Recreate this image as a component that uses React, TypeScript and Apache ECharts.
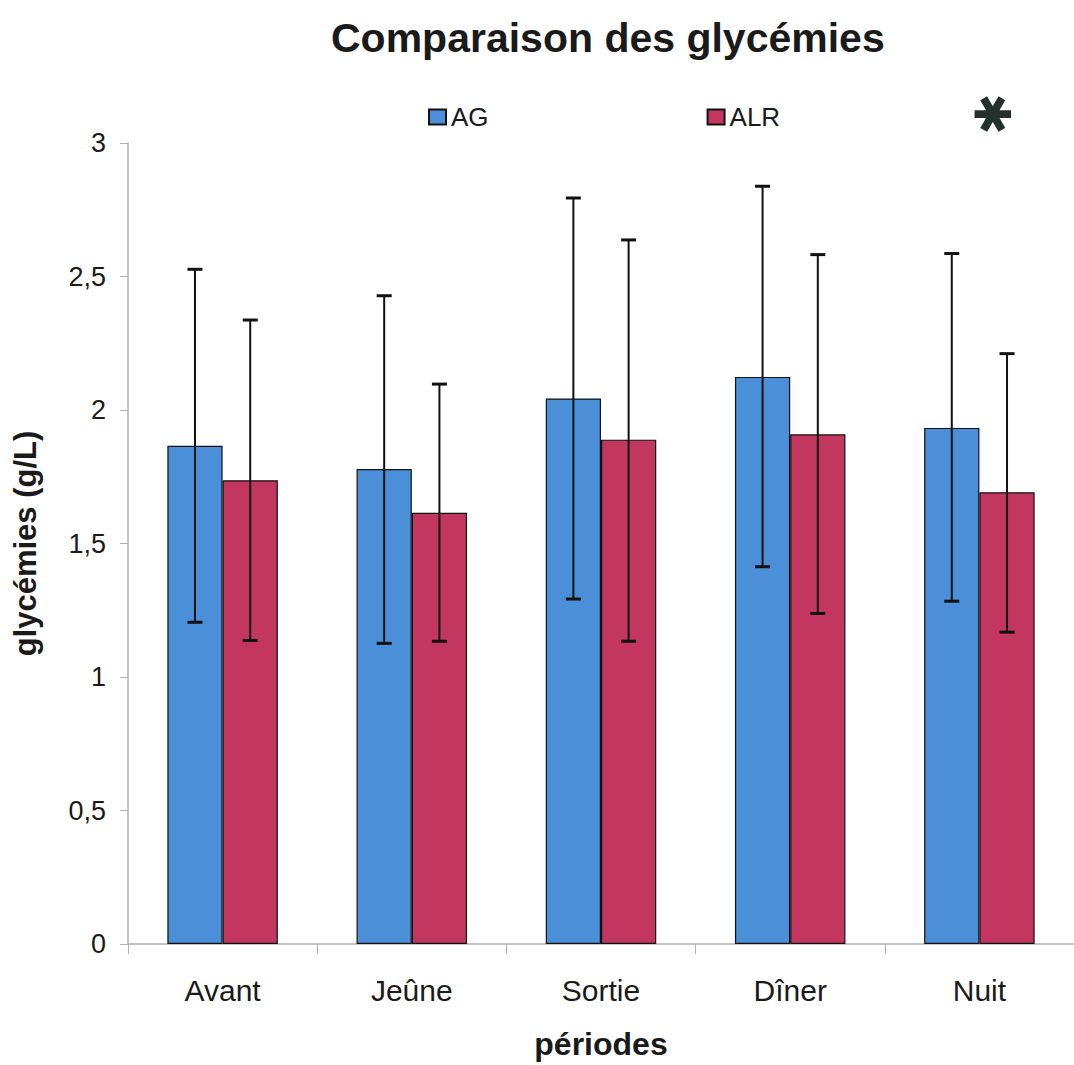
import React, { useEffect, useRef } from "react";
import * as echarts from "echarts";

const categories = ["Avant", "Jeûne", "Sortie", "Dîner", "Nuit"];
const seriesNames = ["AG", "ALR"];
const agMeans = [1.866, 1.779, 2.043, 2.124, 1.933];
const agLow = [1.205, 1.126, 1.292, 1.413, 1.284];
const agHigh = [2.527, 2.428, 2.794, 2.838, 2.586];
const alrMeans = [1.737, 1.615, 1.889, 1.909, 1.692];
const alrLow = [1.137, 1.134, 1.134, 1.238, 1.168];
const alrHigh = [2.337, 2.097, 2.637, 2.582, 2.211];
const yTicks = { min: 0, max: 3, interval: 0.5 };

const BAR_FRAC = 0.292;
const FONT = "'Liberation Sans', Arial, sans-serif";

function errorSeries(low: number[], high: number[], side: number) {
  return {
    type: "custom",
    name: "err" + side,
    z: 10,
    silent: true,
    data: low.map((l, i) => [i, l, high[i]]),
    encode: { x: 0, y: [1, 2] },
    renderItem: (params: any, api: any) => {
      const x = api.value(0);
      const lo = api.coord([x, api.value(1)]);
      const hi = api.coord([x, api.value(2)]);
      const bw = api.size([1, 0])[0] * BAR_FRAC;
      const cx = lo[0] + (side * bw) / 2;
      const cap = 7.5;
      const style = { stroke: "#111", lineWidth: 2 };
      return {
        type: "group",
        children: [
          { type: "line", shape: { x1: cx, y1: hi[1], x2: cx, y2: lo[1] }, style },
          { type: "line", shape: { x1: cx - cap, y1: hi[1], x2: cx + cap, y2: hi[1] }, style: { stroke: "#111", lineWidth: 3 } },
          { type: "line", shape: { x1: cx - cap, y1: lo[1], x2: cx + cap, y2: lo[1] }, style: { stroke: "#111", lineWidth: 3 } },
        ],
      };
    },
  };
}

export default function App() {
  const ref = useRef<HTMLDivElement>(null);
  useEffect(() => {
    if (!ref.current) return;
    const chart = echarts.init(ref.current, null, { renderer: "svg" });
    chart.setOption({
      animation: false,
      backgroundColor: "#ffffff",
      title: {
        text: "Comparaison des glycémies",
        left: 326,
        top: 12,
        textStyle: { fontFamily: FONT, fontSize: 41, fontWeight: "bold", color: "#1a1a1a" },
      },
      legend: {
        data: seriesNames,
        left: 423,
        top: 99,
        itemWidth: 17,
        itemHeight: 15,
        itemGap: 218,
        icon: "rect",
        textStyle: { fontFamily: FONT, fontSize: 26, color: "#1a1a1a", padding: [0, 0, 0, 0] },
      },
      grid: { left: 128, top: 143, width: 952, height: 806 },
      xAxis: {
        type: "category",
        data: categories,
        name: "périodes",
        nameLocation: "middle",
        nameGap: 84,
        nameTextStyle: { fontFamily: FONT, fontSize: 32, fontWeight: "bold", color: "#1a1a1a" },
        axisLine: { show: true, lineStyle: { color: "#b0b0b0", width: 1.5 } },
        axisTick: { show: true, length: 10, lineStyle: { color: "#b0b0b0" } },
        axisLabel: { fontFamily: FONT, fontSize: 30, color: "#1a1a1a", margin: 31 },
      },
      yAxis: {
        type: "value",
        min: yTicks.min,
        max: yTicks.max,
        interval: yTicks.interval,
        name: "glycémies (g/L)",
        nameLocation: "middle",
        nameGap: 87,
        nameTextStyle: { fontFamily: FONT, fontSize: 31, fontWeight: "bold", color: "#1a1a1a" },
        axisLine: { show: true, lineStyle: { color: "#b0b0b0", width: 1.5 } },
        axisTick: { show: true, length: 8, lineStyle: { color: "#b0b0b0" } },
        splitLine: { show: false },
        axisLabel: {
          fontFamily: FONT,
          fontSize: 27,
          color: "#1a1a1a",
          margin: 22,
          formatter: (v: number) => String(v).replace(".", ","),
        },
      },
      graphic: [
        {
          type: "text",
          x: 994,
          y: 114,
          rotation: Math.PI / 2,
          style: {
            text: "✱",
            font: "bold 50px 'DejaVu Sans', sans-serif",
            fill: "#25302d",
            align: "center",
            verticalAlign: "middle",
          },
        },
      ],
      series: [
        {
          type: "bar",
          name: "AG",
          data: agMeans,
          barWidth: (BAR_FRAC * 100).toFixed(1) + "%",
          barGap: "0%",
          itemStyle: { color: "#4a8fd8", borderColor: "#111", borderWidth: 1.2 },
        },
        {
          type: "bar",
          name: "ALR",
          data: alrMeans,
          barWidth: (BAR_FRAC * 100).toFixed(1) + "%",
          barGap: "0%",
          itemStyle: { color: "#c2365f", borderColor: "#111", borderWidth: 1.2 },
        },
        errorSeries(agLow, agHigh, -1),
        errorSeries(alrLow, alrHigh, 1),
      ],
    });
    return () => chart.dispose();
  }, []);
  return (
    <div
      ref={ref}
      style={{ position: "absolute", left: 0, top: 0, width: 1074, height: 1065 }}
    />
  );
}
